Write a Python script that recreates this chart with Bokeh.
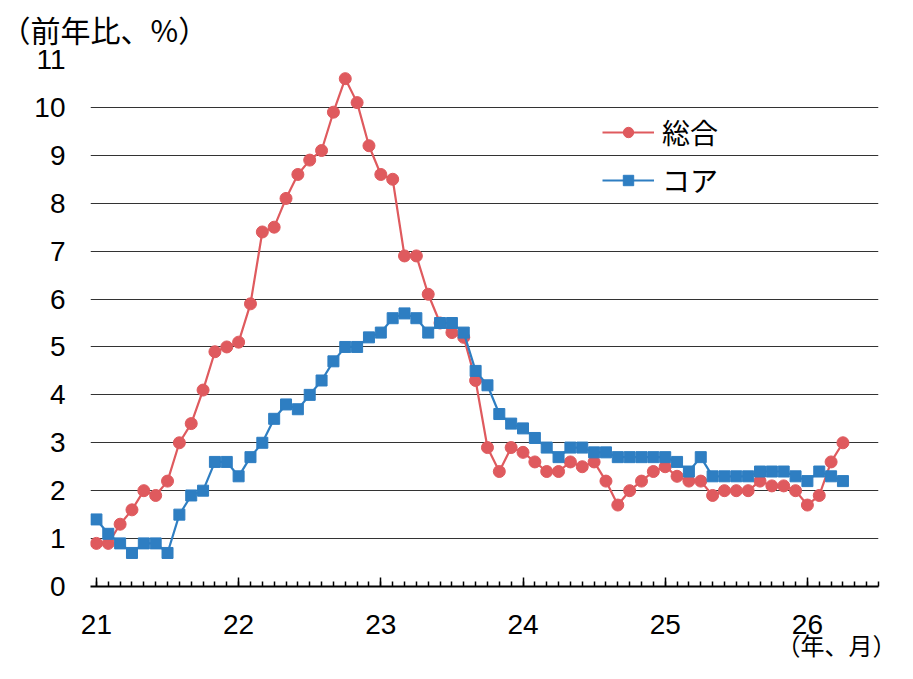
from bokeh.plotting import figure
from bokeh.models import FixedTicker, Legend, LegendItem, Range1d, ColumnDataSource, Title
from bokeh.embed import file_html
from bokeh.resources import INLINE

# Monthly data, Jan 2021 - Apr 2026 (year-on-year, %)
headline = [
    0.9, 0.9, 1.3, 1.6, 2.0, 1.9, 2.2, 3.0, 3.4, 4.1, 4.9, 5.0,
    5.1, 5.9, 7.4, 7.5, 8.1, 8.6, 8.9, 9.1, 9.9, 10.6, 10.1, 9.2,
    8.6, 8.5, 6.9, 6.9, 6.1, 5.5, 5.3, 5.2, 4.3, 2.9, 2.4, 2.9,
    2.8, 2.6, 2.4, 2.4, 2.6, 2.5, 2.6, 2.2, 1.7, 2.0, 2.2, 2.4,
    2.5, 2.3, 2.2, 2.2, 1.9, 2.0, 2.0, 2.0, 2.2, 2.1, 2.1, 2.0,
    1.7, 1.9, 2.6, 3.0,
]
core = [
    1.4, 1.1, 0.9, 0.7, 0.9, 0.9, 0.7, 1.5, 1.9, 2.0, 2.6, 2.6,
    2.3, 2.7, 3.0, 3.5, 3.8, 3.7, 4.0, 4.3, 4.7, 5.0, 5.0, 5.2,
    5.3, 5.6, 5.7, 5.6, 5.3, 5.5, 5.5, 5.3, 4.5, 4.2, 3.6, 3.4,
    3.3, 3.1, 2.9, 2.7, 2.9, 2.9, 2.8, 2.8, 2.7, 2.7, 2.7, 2.7,
    2.7, 2.6, 2.4, 2.7, 2.3, 2.3, 2.3, 2.3, 2.4, 2.4, 2.4, 2.3,
    2.2, 2.4, 2.3, 2.2,
]
series_names = ["総合", "コア"]
year_labels = ["21", "22", "23", "24", "25", "26"]
year_start_index = [0, 12, 24, 36, 48, 60]
axis_months = 66
y_ticks = list(range(0, 12))

RED = "#DF5A5E"
BLUE = "#2E7EC2"

x = list(range(len(headline)))
src = ColumnDataSource(dict(x=x, headline=headline, core=core))

p = figure(width=897, height=663, output_backend="svg", toolbar_location=None,
           x_range=Range1d(-0.5, axis_months), y_range=Range1d(0, 11),
           min_border_left=90, min_border_right=19, min_border_top=59, min_border_bottom=77)
p.outline_line_color = None
p.background_fill_color = "white"

# axes
xa = p.xaxis[0]
xa.ticker = FixedTicker(ticks=year_start_index, minor_ticks=list(range(0, axis_months + 1)))
xa.major_label_overrides = {i: lab for i, lab in zip(year_start_index, year_labels)}
xa.axis_line_color = "black"
xa.axis_line_width = 2
xa.major_tick_line_color = "black"
xa.major_tick_line_width = 1.5
xa.minor_tick_line_color = "black"
xa.minor_tick_line_width = 1.5
xa.major_tick_in = 9
xa.major_tick_out = 0
xa.minor_tick_in = 5
xa.minor_tick_out = 0
xa.major_label_standoff = 28
xa.major_label_text_font = "Liberation Sans"
xa.major_label_text_font_size = "28px"
xa.major_label_text_color = "black"

ya = p.yaxis[0]
ya.ticker = FixedTicker(ticks=y_ticks)
ya.axis_line_color = None
ya.major_tick_line_color = None
ya.minor_tick_line_color = None
ya.major_tick_in = 0
ya.major_tick_out = 0
ya.major_label_standoff = 25
ya.major_label_text_font = "Liberation Sans"
ya.major_label_text_font_size = "28px"
ya.major_label_text_color = "black"

p.xgrid.visible = False
p.ygrid.grid_line_color = "#333333"
p.ygrid.grid_line_width = 1

# series
r_line = p.line("x", "headline", source=src, line_color=RED, line_width=2.2)
r_pts = p.scatter("x", "headline", source=src, marker="circle", size=12,
                  fill_color=RED, line_color=RED)
b_line = p.line("x", "core", source=src, line_color=BLUE, line_width=2.2)
b_pts = p.scatter("x", "core", source=src, marker="square", size=11,
                  fill_color=BLUE, line_color=BLUE)

legend = Legend(items=[LegendItem(label=series_names[0], renderers=[r_line, r_pts]),
                       LegendItem(label=series_names[1], renderers=[b_line, b_pts])],
                location=(512, 386), label_text_font="Noto Sans CJK JP",
                label_text_font_size="28px", label_text_color="black",
                glyph_width=52, glyph_height=26,
                label_height=22, label_standoff=8, spacing=8, padding=0, margin=0,
                background_fill_alpha=0, border_line_color=None)
p.add_layout(legend)

top_title = Title(text="（前年比、%）", align="left", offset=-90, vertical_align="top",
                  text_font="Noto Sans CJK JP", text_font_size="30px",
                  text_font_style="normal", text_color="black", standoff=13)
p.add_layout(top_title, "above")

bottom_title = Title(text="（年、月）", align="right", offset=-18,
                     text_font="Noto Sans CJK JP", text_font_size="24px",
                     text_font_style="normal", text_color="black", standoff=-23)
p.add_layout(bottom_title, "below")

open("out.html", "w").write(file_html(p, INLINE))
